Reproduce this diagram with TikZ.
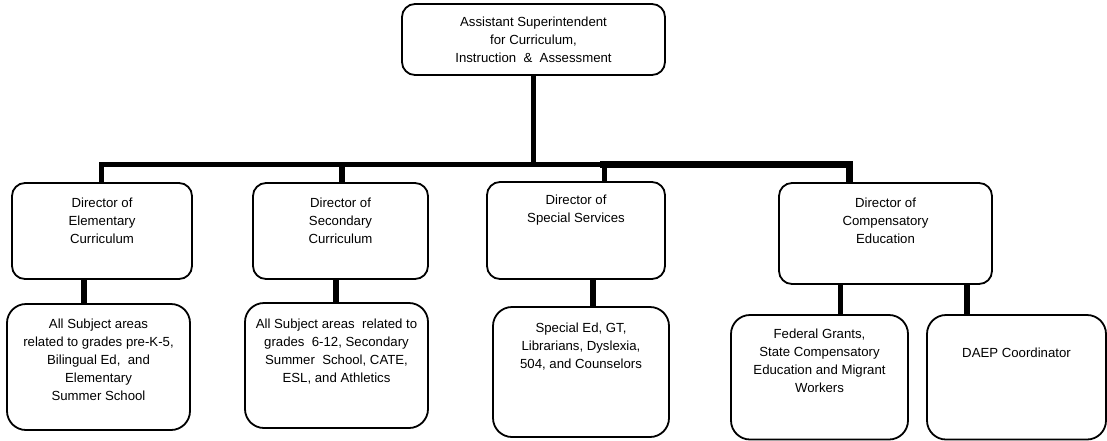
\documentclass[tikz,border=0pt]{standalone}
\usepackage{fontspec}
\setmainfont{Liberation Sans}
% top-aligned text block of fixed size: width, height, first baseline, text
\newcommand\boxtext[4]{\parbox[t][#2][t]{#1}{\centering\rule{0pt}{#3}#4}}
\begin{document}
\begin{tikzpicture}[x=1pt,y=-1pt,
  orgbox/.style={draw, line width=1.8pt, rounded corners=13pt, inner sep=0pt,
    outer sep=0pt, anchor=north west, font=\fontsize{13.2}{18}\selectfont},
  subbox/.style={orgbox, rounded corners=19pt},
  link/.style={line width=5.5pt, line join=miter},
  heavylink/.style={line width=7pt, line join=miter}]
\useasboundingbox (0,0) rectangle (1107,440);
\clip (0,0) rectangle (1107,440);

% head of the division
\node[orgbox] (asst) at (402,4)
  {\boxtext{263pt}{71pt}{22pt}{Assistant Superintendent\\for Curriculum,\\Instruction~ \&~ Assessment}};

% directors
\node[orgbox] (d1) at (12,183)
  {\boxtext{180pt}{96pt}{24pt}{Director of\\Elementary\\Curriculum}};
\node[orgbox] (d2) at (253,183)
  {\boxtext{175pt}{96pt}{24pt}{Director of\\Secondary\\Curriculum}};
\node[orgbox] (d3) at (487,182)
  {\boxtext{178pt}{97pt}{22pt}{Director of\\Special Services}};
\node[orgbox] (d4) at (779,183)
  {\boxtext{213pt}{101pt}{24pt}{Director of\\Compensatory\\Education}};

% areas of responsibility
\node[subbox] (s1) at (7,304)
  {\boxtext{183pt}{126pt}{24pt}{All Subject areas\\related to grades pre-K-5,\\Bilingual Ed,~ and\\Elementary\\Summer School}};
\node[subbox] (s2) at (245,303)
  {\boxtext{183pt}{125pt}{25pt}{All Subject areas~ related to\\grades~ 6-12, Secondary\\Summer~ School, CATE,\\ESL, and Athletics}};
\node[subbox] (s3) at (493,307)
  {\boxtext{176pt}{130pt}{25pt}{Special Ed, GT,\\Librarians, Dyslexia,\\504, and Counselors}};
\node[subbox] (s4) at (731,315)
  {\boxtext{177pt}{124.5pt}{23pt}{Federal Grants,\\State Compensatory\\Education and Migrant\\Workers}};
\node[subbox] (s5) at (927,315)
  {\boxtext{179pt}{124.5pt}{42pt}{DAEP Coordinator}};

% junctions on the horizontal bus
\coordinate (jA) at (101.5,164.5);
\coordinate (jB) at (342,164.5);
\coordinate (jC) at (604.5,164.5);
\coordinate (jD) at (849,164.5);

% bus and drops to the directors
\draw[link] (asst.south) -- (asst.south |- jA);
\draw[link] (jA |- d1.north) -- (jA) -- (jC);
\draw[link] (jB) -- (jB |- d2.north);
\draw[link] (jC) -- (jC |- d3.north);
\draw[heavylink] ([xshift=-4.5pt]jC) -- (jD) -- (jD |- d4.north);

% directors to their areas
\draw[link] ([xshift=-18pt]d1.south) -- ([xshift=-18pt]d1.south |- s1.north);
\draw[link] ([xshift=-4.5pt]d2.south) -- ([xshift=-4.5pt]d2.south |- s2.north);
\draw[link] ([xshift=17pt]d3.south) -- ([xshift=17pt]d3.south |- s3.north);
\draw[link] ([xshift=-45pt]d4.south) -- ([xshift=-45pt]d4.south |- s4.north);
\draw[link] ([xshift=81.5pt]d4.south) -- ([xshift=81.5pt]d4.south |- s5.north);
\end{tikzpicture}
\end{document}
